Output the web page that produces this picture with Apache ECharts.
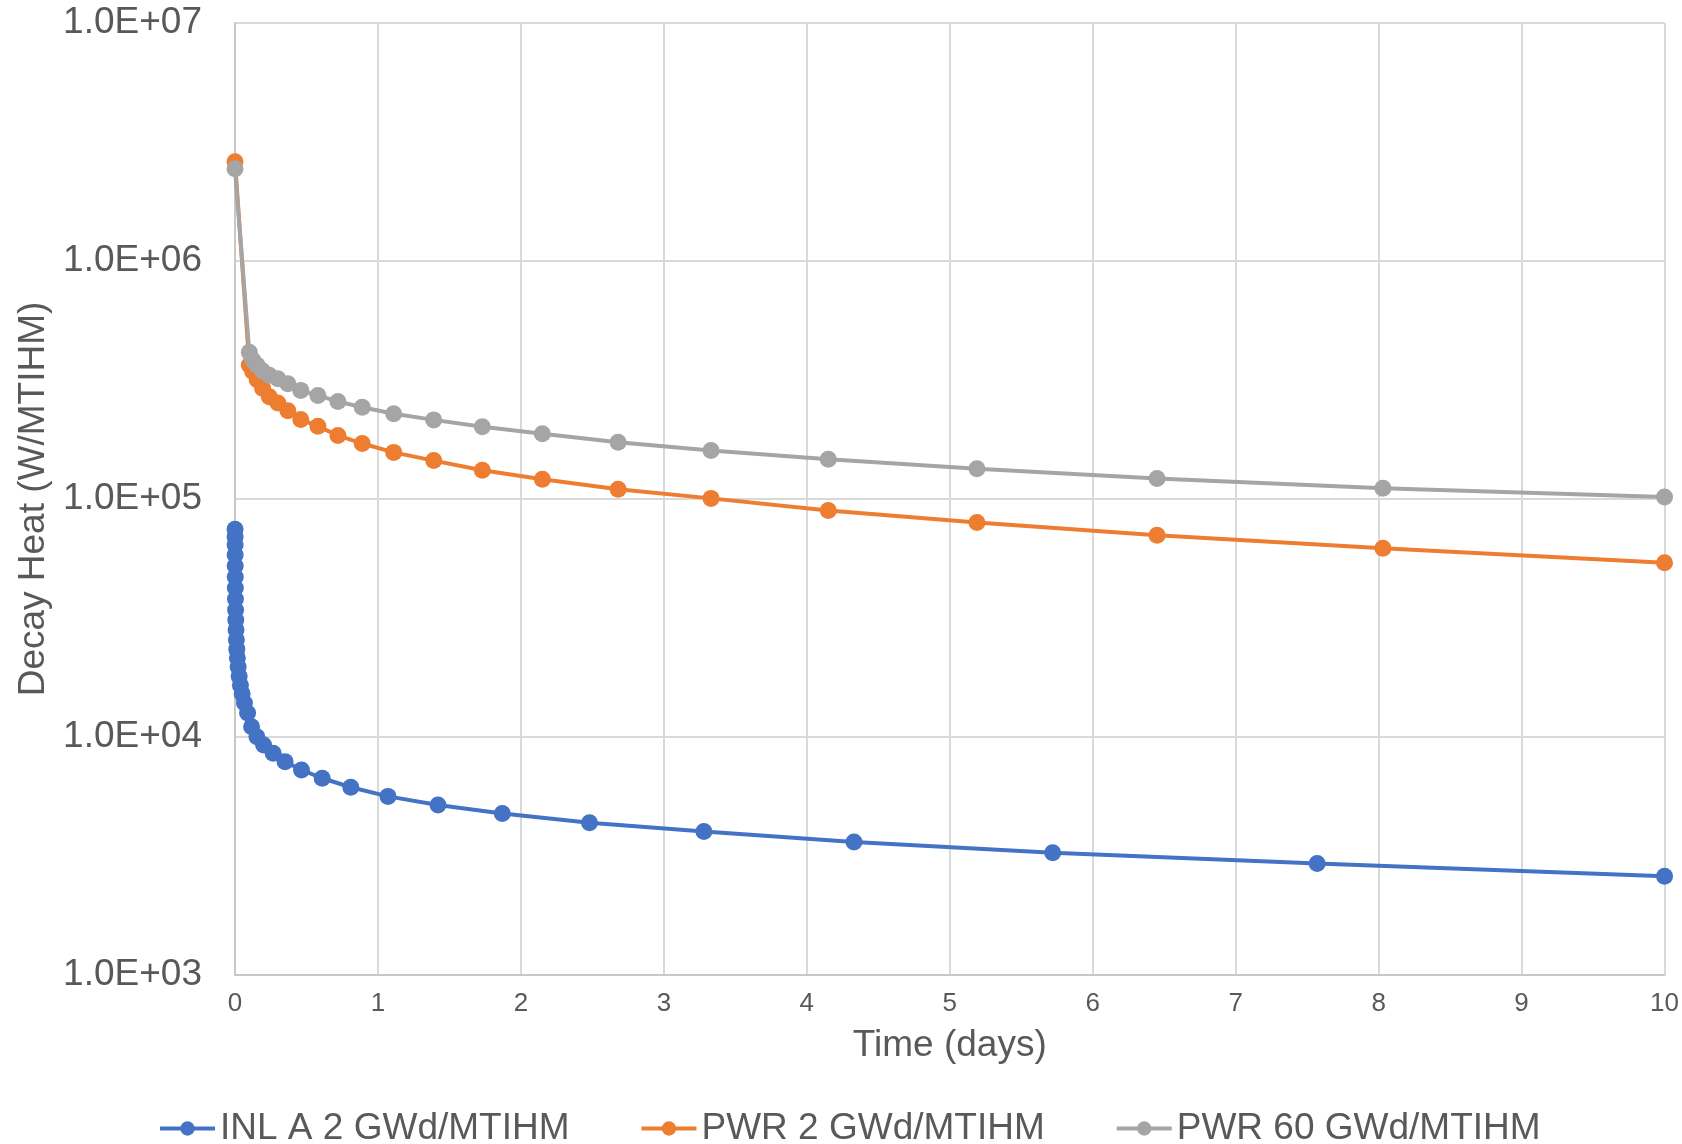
<!DOCTYPE html>
<html><head><meta charset="utf-8">
<script src="https://cdn.jsdelivr.net/npm/echarts@6/dist/echarts.min.js"></script>
<style>html,body{margin:0;padding:0;background:#fff}#c{width:1682px;height:1144px}</style>
</head><body><div id="c"></div>
<script>
const seriesNames = ['INL A 2 GWd/MTIHM', 'PWR 2 GWd/MTIHM', 'PWR 60 GWd/MTIHM'];
const seriesColors = ['#4472C4', '#ED7D31', '#A5A5A5'];

// INL A 2 GWd/MTIHM: time (days) and decay heat (W/MTIHM)
const inlTime = [0.0004, 0.0006, 0.0008, 0.001, 0.0014, 0.0018, 0.0024, 0.0032, 0.0042, 0.0055,
  0.0072, 0.0096, 0.0126, 0.0166, 0.022, 0.029, 0.038, 0.05, 0.066, 0.088,
  0.116, 0.153, 0.2, 0.267, 0.35, 0.465, 0.61, 0.81, 1.07, 1.42,
  1.87, 2.48, 3.28, 4.33, 5.72, 7.57, 10];
const inlHeat = [74700, 69300, 64100, 58200, 52300, 47000, 42300, 38000, 34200, 31000,
  28200, 25600, 23400, 21500, 19700, 18000, 16500, 15200, 13900, 12600,
  11050, 10030, 9260, 8540, 7880, 7270, 6710, 6150, 5630, 5180,
  4770, 4360, 4010, 3620, 3260, 2940, 2600];

// PWR series share one time grid (days)
const pwrTime = [0, 0.1, 0.124, 0.155, 0.193, 0.24, 0.30, 0.37, 0.46, 0.58, 0.72, 0.89,
  1.11, 1.39, 1.73, 2.15, 2.68, 3.33, 4.15, 5.19, 6.45, 8.03, 10];
const pwr2Heat = [2610000, 366000, 343000, 317000, 292000, 269000, 253000, 235000, 216000, 202000, 185000, 171000,
  157000, 145000, 132000, 121000, 110000, 100600, 89400, 79600, 70400, 62100, 54000];
const pwr60Heat = [2440000, 414000, 384000, 365000, 345000, 331000, 320000, 305000, 286000, 272000, 257000, 243000,
  228000, 215000, 201000, 188000, 173000, 160000, 147000, 134000, 122000, 111000, 102000];

const yTickLabels = ['1.0E+03', '1.0E+04', '1.0E+05', '1.0E+06', '1.0E+07'];
const xTickLabels = ['0', '1', '2', '3', '4', '5', '6', '7', '8', '9', '10'];
const xTitle = 'Time (days)';
const yTitle = 'Decay Heat (W/MTIHM)';

const FONT = "'Liberation Sans', Arial, sans-serif";
const TXT = '#595959';

function pairs(xs, ys) { return xs.map((x, i) => [x, ys[i]]); }

const chart = echarts.init(document.getElementById('c'), null, { renderer: 'canvas' });
const mkSeries = (name, color, data) => ({
  name, type: 'line', data, color,
  symbol: 'circle', symbolSize: 17, showSymbol: true,
  lineStyle: { width: 4, color },
  itemStyle: { color },
  emphasis: { disabled: true }
});

chart.setOption({
  animation: false,
  backgroundColor: '#ffffff',
  textStyle: { fontFamily: FONT },
  grid: { left: 235, right: 14, top: 23, bottom: 169, containLabel: false },
  legend: {
    data: seriesNames,
    left: 153, top: 1105,
    itemWidth: 55, itemHeight: 18, itemGap: 70,
    lineStyle: { width: 4 },
    textStyle: { fontSize: 37, color: TXT, fontFamily: FONT }
  },
  xAxis: {
    type: 'value', min: 0, max: 10, interval: 1,
    name: xTitle, nameLocation: 'middle', nameGap: 52,
    nameTextStyle: { fontSize: 37, color: TXT, fontFamily: FONT },
    axisLine: { show: true, lineStyle: { color: '#C8C8C8', width: 2 } },
    axisTick: { show: false },
    axisLabel: { fontSize: 26, color: TXT, margin: 16, fontFamily: FONT,
      formatter: v => xTickLabels[Math.round(v)] },
    splitLine: { show: true, lineStyle: { color: '#D9D9D9', width: 2 } }
  },
  yAxis: {
    type: 'log', logBase: 10, min: 1000, max: 10000000,
    name: yTitle, nameLocation: 'middle', nameGap: 182, nameRotate: 90,
    nameTextStyle: { fontSize: 37, color: TXT, fontFamily: FONT },
    axisLine: { show: true, lineStyle: { color: '#C8C8C8', width: 2 } },
    axisTick: { show: false },
    axisLabel: { fontSize: 37, color: TXT, margin: 33, fontFamily: FONT,
      formatter: v => yTickLabels[Math.round(Math.log10(v)) - 3] },
    splitLine: { show: true, lineStyle: { color: '#D9D9D9', width: 2 } }
  },
  series: [
    mkSeries(seriesNames[0], seriesColors[0], pairs(inlTime, inlHeat)),
    mkSeries(seriesNames[1], seriesColors[1], pairs(pwrTime, pwr2Heat)),
    mkSeries(seriesNames[2], seriesColors[2], pairs(pwrTime, pwr60Heat))
  ]
});
</script>
</body></html>
